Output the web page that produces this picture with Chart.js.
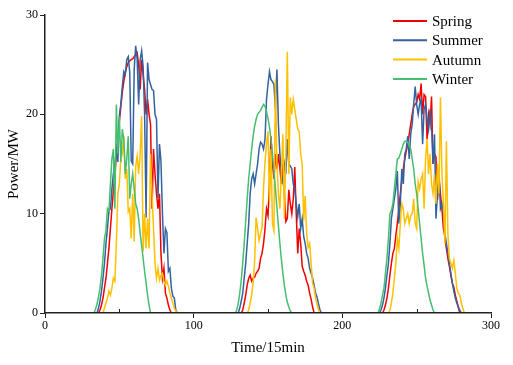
<!DOCTYPE html>
<html>
<head>
<meta charset="utf-8">
<script src="https://cdn.jsdelivr.net/npm/chart.js@4"></script>
<style>
  html, body { margin: 0; padding: 0; background: #fff; }
  #wrap { width: 513px; height: 365px; position: relative; }
</style>
</head>
<body>
<div id="wrap"><canvas id="mycanvas"></canvas></div>
<script>
// 15-min steps, three days, only the daylight part of each day is listed; the rest is 0
var seasons = ['Spring', 'Summer', 'Autumn', 'Winter'];
var seasonColors = ['rgb(240,0,0)', 'rgb(52,98,160)', 'rgb(255,192,0)', 'rgb(70,190,110)'];
var xTicks = [0, 100, 200, 300];
var yTicks = [0, 10, 20, 30];
var totalSteps = 288;

var springStarts = [36, 132, 227];
var springDay1 = [0,0.3,0.8,1.5,2.5,3.5,5,6.5,8.5,10.5,12.3,14,15.8,17.5,19.2,20.8,22.2,23.3,24.2,24.8,25.2,25.4,25.5,25.6,25.8,26,26.2,25,22.5,25.5,24,22.5,20,21.5,20,19,10.5,16.5,14,12,10.5,12,6,3.5,4.5,2,1.5,0.8,0.3,0];
var springDay2 = [0,0.3,1,1.8,2.8,3.5,3.8,3.2,3.5,3.6,4,4.2,4.5,5.5,6,7,8.5,10.5,9.8,13,17.8,15,13.5,16,14.5,16,14.5,13,15,12,9.2,9.5,12.4,11,10,11.5,14.7,10,6,8.5,7,4.7,4.2,3.8,3.2,2.8,2,1.4,0.6,0];
var springDay3 = [0,0.3,0.8,1.5,2.5,3.8,5,6,6.5,7.8,9,10.5,12,13.3,14.5,15.5,16.3,17,18,19,20,20.8,21,21.2,22,21.5,23.1,20,22,21.8,17.5,20,19,21.8,15,16,15.7,11.4,13.5,12,10.5,8.5,7.7,6.5,5.5,4.7,3.8,3,2.6,1.8,1.2,0.6,0];

var summerStarts = [35, 130, 225];
var summerDay1 = [0,0.5,1.2,2.2,3.5,5,7,8.5,10.3,10.5,12.5,14,15,16.5,15.2,19.8,21,22.8,24.3,24,25.5,25.8,24.2,15.3,15,24.5,26.9,25.5,21,25.5,26.4,24.8,20,9.6,25.2,23.5,23,22.5,22.4,20,19.5,11.6,17,15.3,10,6,8.5,8.1,4.2,4.5,2.5,1.7,1.5,0.3,0];
var summerDay2 = [0,0.5,1.2,2,3.5,5,7,9,12,13.5,14,13,14,15,16.5,17.2,17,16.5,17.5,21.5,23,24.3,23.5,23.3,23,20.5,24.5,19,16,14,13.2,15,14,17.5,15,14.8,14.5,13,12.4,11,9.7,11,8.5,9.5,7.7,7,6,5.5,4.5,4,3.5,2.8,2,1.6,0.9,0.3,0];
var summerDay3 = [0,0.3,0.8,1.5,2.5,3.8,5,7,9.5,10.5,11.5,12.5,14.3,9,11,14.5,13,16,16.5,17.8,15.5,18,19,21,22.8,21,20,21,21.5,17,20.5,21,19.5,18.5,20.5,19,15,18,9.5,12,14.5,10.5,11,10,8,7,6,5,4,3,2.2,1.5,1,0.6,0.3,0];

var autumnStarts = [39, 136, 231];
var autumnDay1 = [0,0.5,1,1.5,2.2,1.8,2.5,3.5,3.2,7,12,13,15.5,16,17.8,13.5,14.5,10.2,10.5,7.5,12,7.2,14.8,15.8,14,16,19.8,6.2,10,6.5,9.5,6.5,16,12,8.5,5,3.5,4.5,3.3,3.8,4,3.2,2.8,3.2,2.7,2,1.5,1,0.5,0.2,0];
var autumnDay2 = [0,0.3,1,1.8,3,5.2,9.6,8.5,7.3,8,8.6,12.6,15.2,17,18.3,11.2,16.5,9,8.3,23.5,15,12,10.5,14,18,9.5,16,26.3,14,21.7,20,21.5,20.5,19.5,18.5,18.3,16,15,9.3,11.8,8,6.6,7,5,3,2.5,1.5,0.9,0.3,0];
var autumnDay3 = [0,0.3,1,2,3.5,5,7.5,6.5,9,11,10.5,9,9.5,10,9,9.8,10,11.5,9,8.5,13.2,12.5,13.5,14,10.5,15.5,17.5,14,16,13,12,14,11,15,12,21.7,14,11,7,17.3,8,5.5,5,4.5,5.3,4,2.5,2,1.8,1,0.5,0];

var winterStarts = [33, 128, 224];
var winterDay1 = [0,0.4,0.9,1.6,2.5,3.8,5.5,7.5,8.3,10.5,10.2,13,15.5,16.5,10.5,21,16,19.8,15.2,18.5,17.5,14,15.5,17.8,11.5,13,14,12.5,11,10.5,9.5,8,6.8,5.5,4.2,3,1.8,0.8,0];
var winterDay2 = [0,0.3,1,2,3.3,5,7,9.3,11.5,13.5,15,16.5,17.8,18.8,19.5,20,20.2,20.4,20.7,21,20.8,20.3,19.6,18.7,17.5,16,14.3,12.5,10.6,8.8,7,5.4,4,2.8,1.8,1.1,0.6,0.2,0];
var winterDay3 = [0,0.4,1,1.8,2.5,4,5.5,7.5,10,10.3,11,12.5,14,15.5,15.6,16,16.5,17,17.3,17.3,17.2,16.8,16.5,15.5,14.5,13,12,10.5,9,7.5,6,4.8,3.5,2.7,2,1.3,0.8,0.3,0];

function buildSeries(starts, days) {
    var vals = [];
    for (var i = 0; i < totalSteps; i++) vals.push(0);
    for (var d = 0; d < days.length; d++) {
        for (var j = 0; j < days[d].length; j++) {
            vals[starts[d] + j] = days[d][j];
        }
    }
    var pts = [];
    for (var k = 0; k < vals.length; k++) pts.push({x: k, y: vals[k]});
    return pts;
}

var seriesData = [
    buildSeries(springStarts, [springDay1, springDay2, springDay3]),
    buildSeries(summerStarts, [summerDay1, summerDay2, summerDay3]),
    buildSeries(autumnStarts, [autumnDay1, autumnDay2, autumnDay3]),
    buildSeries(winterStarts, [winterDay1, winterDay2, winterDay3])
];

var serif = "'Liberation Serif', 'Times New Roman', serif";

var datasets = [];
for (var s = 0; s < seasons.length; s++) {
    datasets.push({
        label: seasons[s],
        data: seriesData[s],
        borderColor: seasonColors[s],
        backgroundColor: seasonColors[s],
        borderWidth: 1.5,
        pointRadius: 0,
        tension: 0,
        fill: false,
        order: seasons.length - s   // later seasons on top
    });
}

// minor x ticks pointing into the plot, legend inside the top right corner
var extras = {
    id: 'extras',
    afterDraw: function(chart) {
        var ctx = chart.ctx;
        var xs = chart.scales.x;
        var area = chart.chartArea;
        ctx.save();
        ctx.strokeStyle = '#222';
        ctx.lineWidth = 1;
        [50, 150, 250].forEach(function(v){
            var px = Math.round(xs.getPixelForValue(v)) + 0.5;
            ctx.beginPath(); ctx.moveTo(px, area.bottom); ctx.lineTo(px, area.bottom - 4); ctx.stroke();
        });

        ctx.font = '15px ' + serif;
        ctx.textBaseline = 'middle';
        ctx.textAlign = 'left';
        for (var i = 0; i < chart.data.datasets.length; i++) {
            var ds = chart.data.datasets[i];
            var y = 21 + i * 19.3;
            ctx.strokeStyle = ds.borderColor;
            ctx.lineWidth = 2;
            ctx.beginPath(); ctx.moveTo(393, y); ctx.lineTo(427, y); ctx.stroke();
            ctx.fillStyle = '#000';
            ctx.fillText(ds.label, 432, y + 1);
        }
        ctx.restore();
    }
};

var ctx = document.getElementById('mycanvas');
var lineGraph = new Chart(ctx, {
    type: 'line',
    data: { datasets: datasets },
    plugins: [extras],
    options: {
        responsive: true,
        maintainAspectRatio: false,
        animation: false,
        layout: { padding: { top: 15, right: 22, left: 0, bottom: 0 } },
        plugins: { legend: { display: false }, tooltip: { enabled: false } },
        scales: {
            x: {
                type: 'linear',
                min: 0, max: 300,
                afterFit: function(scale){ scale.height = 52; },
                afterBuildTicks: function(scale){ scale.ticks = xTicks.map(function(v){ return {value: v}; }); },
                ticks: { color: '#000', font: { family: serif, size: 12 }, padding: 1, maxRotation: 0 },
                grid: { drawOnChartArea: false, drawTicks: true, tickLength: 5, color: '#222', lineWidth: 1 },
                border: { display: true, color: '#222', width: 1.5, z: 1 },
                title: { display: true, text: 'Time/15min', color: '#000', font: { family: serif, size: 15 }, padding: { bottom: 8, top: 0 } }
            },
            y: {
                min: 0, max: 30,
                afterFit: function(scale){ scale.width = 45; },
                afterBuildTicks: function(scale){ scale.ticks = yTicks.map(function(v){ return {value: v}; }); },
                ticks: { color: '#000', font: { family: serif, size: 12 }, padding: 2 },
                grid: { drawOnChartArea: false, drawTicks: true, tickLength: 5, color: '#222', lineWidth: 1 },
                border: { display: true, color: '#222', width: 1.5, z: 1 },
                title: { display: true, text: 'Power/MW', color: '#000', font: { family: serif, size: 15 }, padding: { top: 5, bottom: 0 } }
            }
        }
    }
});
</script>
</body>
</html>
